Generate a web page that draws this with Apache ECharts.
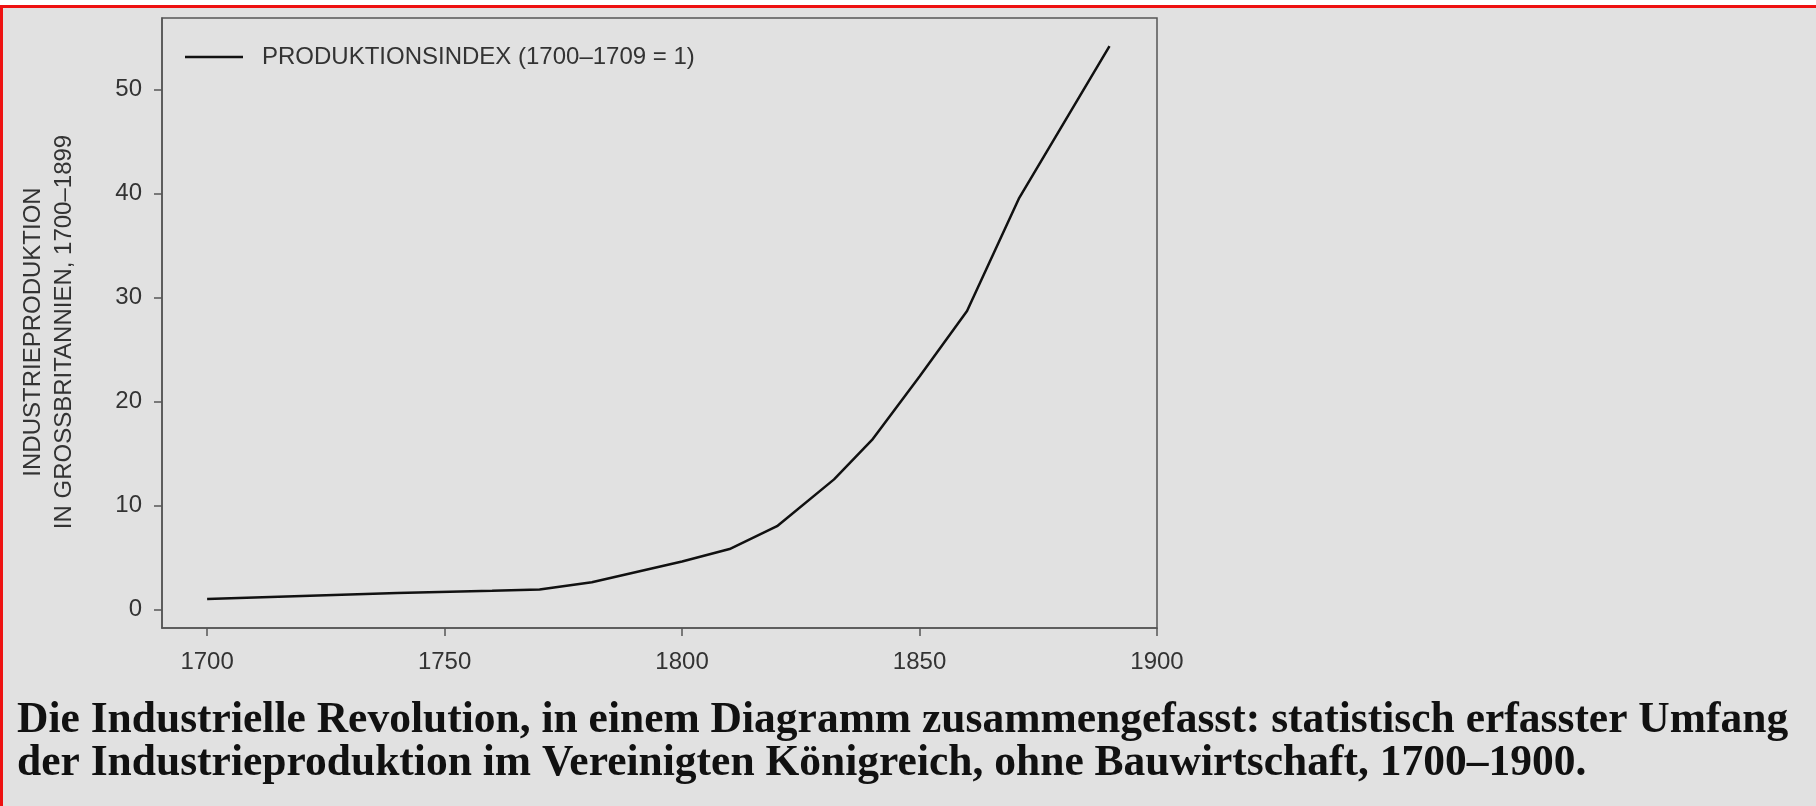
<!DOCTYPE html>
<html>
<head>
<meta charset="utf-8">
<script src="https://cdn.jsdelivr.net/npm/echarts@6/dist/echarts.min.js"></script>
<style>
  html, body { margin: 0; padding: 0; background: #e1e1e1; }
  #chart { width: 1816px; height: 806px; }
</style>
</head>
<body>
<div id="chart"></div>
<script>
// Produktionsindex (1700-1709 = 1)
const years = [1700, 1720, 1740, 1760, 1770, 1781, 1800, 1810, 1820, 1832, 1840, 1850, 1860, 1871, 1890]
const index = [1.0, 1.29, 1.56, 1.78, 1.9, 2.6, 4.6, 5.8, 8.0, 12.5, 16.3, 22.4, 28.7, 39.6, 54.2]
const xTicks = [1700, 1750, 1800, 1850, 1900]
const yTicks = [0, 10, 20, 30, 40, 50]

const seriesName = 'PRODUKTIONSINDEX (1700–1709 = 1)'
const yTitle = 'INDUSTRIEPRODUKTION\nIN GROSSBRITANNIEN, 1700–1899'
const caption = 'Die Industrielle Revolution, in einem Diagramm zusammengefasst: statistisch erfasster Umfang\n' +
  'der Industrieproduktion im Vereinigten Königreich, ohne Bauwirtschaft, 1700–1900.'

const sans = '"Liberation Sans", Arial, sans-serif'
const axisColor = '#555'
const textColor = '#333'

const chart = echarts.init(document.getElementById('chart'))

chart.setOption({
  backgroundColor: '#e1e1e1',
  animation: false,
  grid: {
    left: 162,
    right: 659,
    top: 18,
    bottom: 178,
    show: true,
    borderColor: axisColor,
    borderWidth: 1.5,
    backgroundColor: 'transparent'
  },
  legend: {
    left: 180,
    top: 40,
    icon: 'rect',
    itemWidth: 58,
    itemHeight: 2.5,
    textStyle: {
      fontFamily: sans,
      fontSize: 24,
      color: textColor,
      padding: [0, 0, 0, 14]
    },
    data: [seriesName]
  },
  xAxis: {
    type: 'value',
    min: 1690.5,
    max: 1900,
    axisLine: { show: true, onZero: false, lineStyle: { color: axisColor, width: 1.5 } },
    axisTick: { show: true, length: 8, customValues: xTicks, lineStyle: { color: axisColor, width: 1.5 } },
    axisLabel: {
      customValues: xTicks,
      formatter: v => String(v),
      margin: 22,
      fontFamily: sans,
      fontSize: 24,
      color: textColor
    },
    splitLine: { show: false }
  },
  yAxis: {
    type: 'value',
    min: -1.8,
    max: 56.9,
    name: yTitle,
    nameLocation: 'middle',
    nameRotate: 90,
    nameGap: 82,
    nameTextStyle: {
      fontFamily: sans,
      fontSize: 24,
      color: textColor,
      lineHeight: 31,
      align: 'center',
      padding: [0, 18, 0, 0]
    },
    axisLine: { show: true, onZero: false, lineStyle: { color: axisColor, width: 1.5 } },
    axisTick: { show: true, length: 8, customValues: yTicks, lineStyle: { color: axisColor, width: 1.5 } },
    axisLabel: {
      customValues: yTicks,
      margin: 20,
      fontFamily: sans,
      fontSize: 24,
      color: textColor
    },
    splitLine: { show: false }
  },
  series: [
    {
      name: seriesName,
      type: 'line',
      data: years.map((y, i) => [y, index[i]]),
      symbol: 'none',
      lineStyle: { color: '#111', width: 2.5 },
      itemStyle: { color: '#111' }
    }
  ],
  graphic: [
    // Rand des Screenshots
    { type: 'rect', shape: { x: 0, y: 0, width: 1816, height: 5 }, style: { fill: '#fff' }, silent: true },
    { type: 'rect', shape: { x: 0, y: 5, width: 1816, height: 3 }, style: { fill: '#ee1111' }, silent: true },
    { type: 'rect', shape: { x: 0, y: 5, width: 3, height: 801 }, style: { fill: '#ee1111' }, silent: true },
    {
      type: 'text',
      left: 17,
      top: 699,
      style: {
        text: caption,
        font: 'bold 43.5px "Liberation Serif", "Times New Roman", serif',
        lineHeight: 43,
        fill: '#111'
      }
    }
  ]
})
</script>
</body>
</html>
